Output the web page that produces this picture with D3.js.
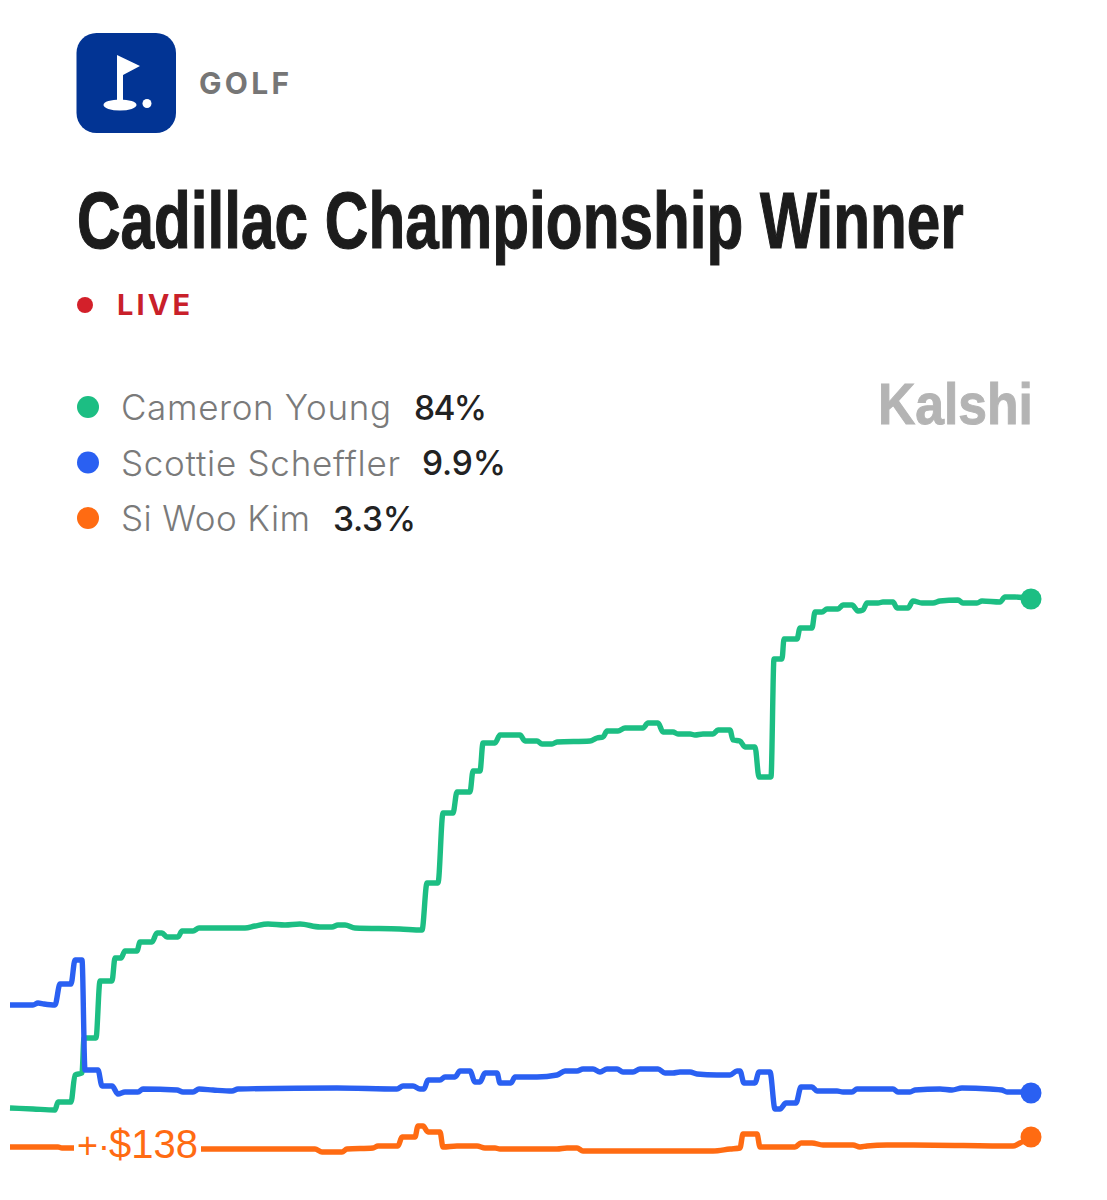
<!DOCTYPE html>
<html>
<head>
<meta charset="utf-8">
<title>Cadillac Championship Winner</title>
<script src="https://cdnjs.cloudflare.com/ajax/libs/d3/7.8.5/d3.min.js"></script>
<style>
	html, body { margin: 0; padding: 0; background: #fff; }
	svg { display: block; }
	text { font-variant-ligatures: none; }
</style>
</head>
<body>
<svg id="chart" width="1107" height="1200"></svg>
<script>
var names = ['Cameron Young', 'Scottie Scheffler', 'Si Woo Kim'];
var latest = ['84%', '9.9%', '3.3%'];
var colors = ['#1cbe83', '#2a60f2', '#ff6b12'];

// time index and chance in percent
var youngT = [0,23,45,48,61,65,72,74,86,90,102,105,111,115,127,130,142,147,152,157,168,172,183,189,235,245,258,275,290,310,322,328,335,345,390,412,417,428,433,443,447,460,463,470,473,485,490,510,515,527,532,542,547,580,587,593,597,608,615,633,638,648,653,663,668,680,685,693,703,708,720,723,730,735,745,749,761,764,772,774,787,790,802,805,812,817,828,833,842,848,853,857,868,873,883,887,898,903,912,923,930,948,953,967,972,990,995,1005,1021];
var youngV = [7.65,7.5,7.35,8.55,8.55,12.6,12.9,18.15,18.15,26.7,26.7,30.15,30.15,31.2,31.2,32.55,32.55,33.9,33.9,33.3,33.3,34.2,34.2,34.65,34.65,34.95,35.25,35.1,35.25,34.8,34.8,35.1,35.1,34.65,34.5,34.35,41.4,41.4,51.9,51.9,55.05,55.05,58.2,58.2,62.4,62.4,63.6,63.6,62.7,62.7,62.25,62.25,62.55,62.7,63.15,63.3,64.2,64.2,64.65,64.65,65.4,65.4,64.05,64.05,63.75,63.75,63.6,63.75,63.75,64.35,64.35,62.85,62.7,61.8,61.8,57.3,57.3,75,75,78,78,79.65,79.65,82.05,82.05,82.5,82.5,83.1,83.1,82.2,82.35,83.4,83.4,83.55,83.55,82.65,82.65,83.7,83.4,83.4,83.7,83.85,83.4,83.4,83.7,83.55,84.3,84.3,84];

var schefflerT = [0,23,28,34,45,50,61,65,72,75,88,92,102,108,115,128,133,167,173,183,189,203,222,228,327,387,393,403,410,414,418,430,435,445,450,460,465,470,475,487,490,501,505,527,547,555,567,573,583,590,597,607,613,623,630,648,655,663,670,680,687,707,720,727,730,734,745,749,760,765,770,776,786,791,802,807,827,833,842,847,883,888,900,905,930,942,952,980,992,997,1010,1021];
var schefflerV = [23.1,23.1,23.4,23.25,23.1,26.25,26.25,29.85,29.85,13.35,13.35,10.95,10.95,9.75,10.05,10.05,10.5,10.35,10.05,10.05,10.5,10.35,10.2,10.5,10.65,10.5,10.95,10.95,10.5,10.5,11.85,11.85,12.3,12.3,13.2,13.2,11.55,11.55,12.9,12.9,11.4,11.4,12.3,12.3,12.6,13.2,13.2,13.5,13.5,13.05,13.5,13.5,13.05,13.05,13.5,13.5,12.9,12.9,13.05,13.05,12.75,12.6,12.6,13.2,13.2,11.4,11.4,13.05,13.05,7.5,7.5,8.4,8.4,10.8,10.8,10.2,10.2,10.05,10.05,10.5,10.5,10.05,10.05,10.35,10.5,10.35,10.65,10.5,10.35,10.05,10.05,9.9];

var kimT = [0,48,52,63,192,290,305,312,332,337,363,368,388,392,405,408,413,418,430,433,447,467,475,485,490,547,557,567,573,703,720,730,733,747,750,785,791,802,813,843,850,857,877,903,1003,1010,1021];
var kimV = [1.8,1.8,1.65,1.65,1.5,1.5,1.5,1.05,1.05,1.5,1.65,1.95,1.95,3.3,3.3,4.95,4.95,4.05,4.05,1.8,1.95,1.95,1.65,1.65,1.5,1.5,1.65,1.65,1.2,1.2,1.5,1.65,3.75,3.75,1.8,1.8,2.4,2.4,2.1,2.1,1.8,1.95,2.1,2.1,1.95,2.4,3.3];

var seriesT = [youngT, schefflerT, kimT];
var seriesV = [youngV, schefflerV, kimV];

var bodyFont = 'Inter, Roboto, sans-serif';
var heavyFont = '"Liberation Sans", Arial, sans-serif';

var svg = d3.select('#chart');

// squeezes a text sideways to the width it has in the picture
function squeeze(sel, x, y, w) {
	var natural = sel.node().getComputedTextLength();
	sel.attr('transform', 'translate(' + x + ',' + y + ') scale(' + (w / natural) + ',1)');
	return sel;
}

// same thing, but opens or closes the letter gaps
function spaced(sel, w) {
	var natural = sel.node().getComputedTextLength();
	var gaps = sel.text().length - 1;
	sel.style('letter-spacing', ((w - natural) / gaps) + 'px');
	return sel;
}

function drawHeader() {
	var icon = svg.append('g');
	icon.append('rect')
		.attr('x', 76.5).attr('y', 33)
		.attr('width', 99.5).attr('height', 100)
		.attr('rx', 20)
		.attr('fill', '#023494');
	icon.append('path')
		.attr('d', 'M117 55L140 66L123 75L123 108L117 108Z')
		.attr('fill', '#fff');
	icon.append('ellipse')
		.attr('cx', 120).attr('cy', 105)
		.attr('rx', 16.5).attr('ry', 5.5)
		.attr('fill', '#fff');
	icon.append('circle')
		.attr('cx', 147).attr('cy', 103.5)
		.attr('r', 4.5)
		.attr('fill', '#fff');

	spaced(svg.append('text')
		.attr('x', 199).attr('y', 94)
		.attr('font-family', bodyFont)
		.attr('font-size', 30)
		.attr('font-weight', 700)
		.attr('fill', '#767676')
		.text('GOLF'), 90);

	squeeze(svg.append('text')
		.attr('font-family', heavyFont)
		.attr('font-size', 79)
		.attr('font-weight', 700)
		.attr('fill', '#1c1c1c')
		.attr('stroke', '#1c1c1c')
		.attr('stroke-width', 1.2)
		.text('Cadillac Championship Winner'), 77, 248, 887);

	svg.append('circle')
		.attr('cx', 85).attr('cy', 305)
		.attr('r', 8)
		.attr('fill', '#d3202a');

	spaced(svg.append('text')
		.attr('x', 117).attr('y', 315)
		.attr('font-family', bodyFont)
		.attr('font-size', 29)
		.attr('font-weight', 700)
		.attr('fill', '#c9202a')
		.text('LIVE'), 73);

	squeeze(svg.append('text')
		.attr('font-family', heavyFont)
		.attr('font-size', 57)
		.attr('font-weight', 700)
		.attr('fill', '#b4b4b4')
		.attr('stroke', '#b4b4b4')
		.attr('stroke-width', 1)
		.text('Kalshi'), 878, 424, 155);
}

function drawLegend() {
	var rowY = d3.scalePoint().domain(names).range([407, 518]);
	var valueX = [414, 422, 333];
	var nameW = [270, 279, 189];
	var valueW = [73, 84, 83];

	names.forEach(function(d, i) {
		var cy = rowY(d);
		svg.append('circle')
			.attr('cx', 88).attr('cy', cy)
			.attr('r', 11)
			.attr('fill', colors[i]);
		spaced(svg.append('text')
			.attr('x', 121).attr('y', cy + 13)
			.attr('font-family', bodyFont)
			.attr('font-size', 35)
			.attr('font-weight', 300)
			.attr('fill', '#7a7a7a')
			.text(d), nameW[i]);
		spaced(svg.append('text')
			.attr('x', valueX[i]).attr('y', cy + 12.5)
			.attr('font-family', bodyFont)
			.attr('font-size', 33.5)
			.attr('font-weight', 500)
			.attr('fill', '#222')
			.text(latest[i]), valueW[i]);
	});
}

function drawChart() {
	var x = d3.scaleLinear().domain([0, 1021]).range([10, 1031]);
	var y = d3.scaleLinear().domain([0, 84]).range([1159, 599]);

	var line = d3.line()
		.x(function(d) { return x(d[0]); })
		.y(function(d) { return y(d[1]); })
		.curve(d3.curveMonotoneX);

	names.forEach(function(d, i) {
		var pts = d3.zip(seriesT[i], seriesV[i]);
		var last = pts[pts.length - 1];
		svg.append('path')
			.attr('d', line(pts))
			.attr('fill', 'none')
			.attr('stroke', colors[i])
			.attr('stroke-width', 5.4)
			.attr('stroke-linejoin', 'round');
		svg.append('circle')
			.attr('cx', x(last[0])).attr('cy', y(last[1]))
			.attr('r', 10.5)
			.attr('fill', colors[i]);
	});

	// money label sits on the orange line, with white behind it
	svg.append('rect')
		.attr('x', 74).attr('y', 1128)
		.attr('width', 127).attr('height', 40)
		.attr('fill', '#fff');
	svg.append('text')
		.attr('x', 77).attr('y', 1158)
		.attr('font-family', heavyFont)
		.attr('font-size', 36)
		.attr('fill', colors[2])
		.text('+\u00b7');
	svg.append('text')
		.attr('x', 109).attr('y', 1158)
		.attr('font-family', heavyFont)
		.attr('font-size', 40)
		.attr('fill', colors[2])
		.text('$138');
}

drawHeader();
drawLegend();
drawChart();
</script>
</body>
</html>
